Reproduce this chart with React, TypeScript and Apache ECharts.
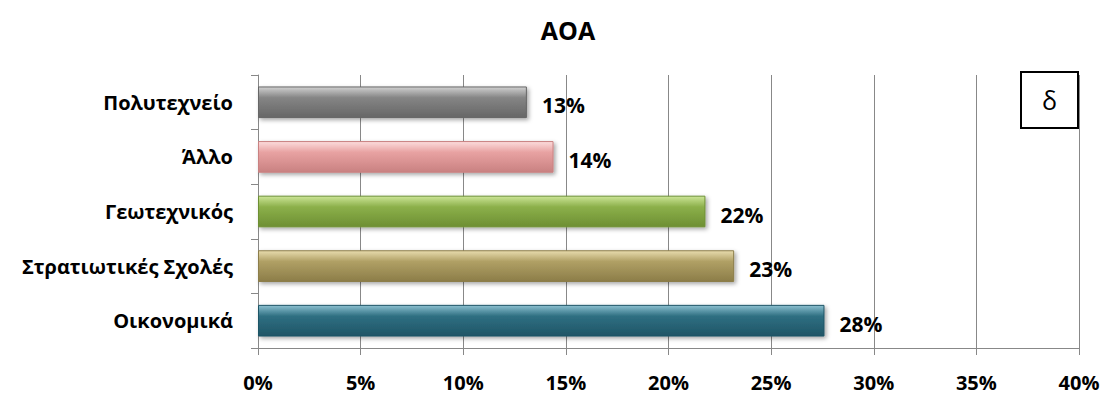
import React, { useEffect, useRef } from "react";
import * as echarts from "echarts";

const categories = ["Οικονομικά", "Στρατιωτικές Σχολές", "Γεωτεχνικός", "Άλλο", "Πολυτεχνείο"];
const values = [27.6, 23.2, 21.8, 14.4, 13.1];
const barColors: [string, string, string][] = [
  ["#8cc0d0", "#2f6f82", "#1f5566"],
  ["#e8dcae", "#b0a065", "#8c7d48"],
  ["#cce597", "#8cb04a", "#6d8f33"],
  ["#fcdcdc", "#e8a2a2", "#c98181"],
  ["#d0d0d0", "#858585", "#666666"],
];
const xTicks = [0, 5, 10, 15, 20, 25, 30, 35, 40];
const title = "ΑΟΑ";
const boxText = "δ";

const FONT = "'Open Sans', 'Noto Sans', sans-serif";

export default function App() {
  const ref = useRef<HTMLDivElement>(null);
  useEffect(() => {
    if (!ref.current) return;
    const chart = echarts.init(ref.current, undefined, { renderer: "svg" });
    chart.setOption({
      animation: false,
      title: {
        text: title,
        left: 563,
        top: 12,
        textAlign: "center",
        textStyle: { fontFamily: FONT, fontWeight: "bold", fontSize: 25, color: "#000" },
      },
      grid: { left: 258, right: 30, top: 75, bottom: 46 },
      xAxis: {
        type: "value",
        min: xTicks[0],
        max: xTicks[xTicks.length - 1],
        interval: 5,
        axisLine: { show: true, lineStyle: { color: "#888", width: 1 } },
        axisTick: { show: true, length: 7, lineStyle: { color: "#888" } },
        splitLine: { show: true, lineStyle: { color: "#888", width: 1 } },
        axisLabel: {
          margin: 24,
          formatter: (v: number) => `${v}%`,
          fontFamily: FONT,
          fontWeight: "bold",
          fontSize: 20,
          lineHeight: 20,
          color: "#000",
        },
      },
      yAxis: {
        type: "category",
        data: categories,
        axisLine: { show: true, lineStyle: { color: "#888", width: 1 } },
        axisTick: { show: true, length: 7, lineStyle: { color: "#888" } },
        axisLabel: {
          margin: 25,
          fontFamily: FONT,
          fontWeight: "bold",
          fontSize: 20,
          color: "#000",
        },
      },
      series: [
        {
          type: "bar",
          barCategoryGap: "42%",
          data: values.map((v, i) => ({
            value: v,
            itemStyle: {
              color: new echarts.graphic.LinearGradient(0, 0, 0, 1, [
                { offset: 0, color: barColors[i][0] },
                { offset: 0.35, color: barColors[i][1] },
                { offset: 1, color: barColors[i][2] },
              ]),
              borderColor: barColors[i][2],
              borderWidth: 1,
              shadowColor: "rgba(0,0,0,0.35)",
              shadowBlur: 4,
              shadowOffsetX: 2,
              shadowOffsetY: 2,
            },
          })),
          label: {
            show: true,
            position: "right",
            distance: 15,
            offset: [0, 3],
            formatter: (p: any) => `${Math.round(p.value)}%`,
            fontFamily: FONT,
            fontWeight: "bold",
            fontSize: 21,
            color: "#000",
          },
        },
      ],
      graphic: [
        {
          type: "rect",
          shape: { x: 1021, y: 72, width: 57, height: 56 },
          style: { fill: "#fff", stroke: "#000", lineWidth: 2 },
          z: 11,
        },
        {
          type: "text",
          x: 1049.5,
          y: 100,
          style: {
            text: boxText,
            fontFamily: "'Open Sans', sans-serif",
            fontSize: 25,
            fill: "#000",
            align: "center",
            verticalAlign: "middle",
          },
          z: 12,
        },
      ],
    });
    return () => chart.dispose();
  }, []);
  return <div ref={ref} style={{ width: 1109, height: 394, position: "absolute", left: 0, top: 0 }} />;
}
